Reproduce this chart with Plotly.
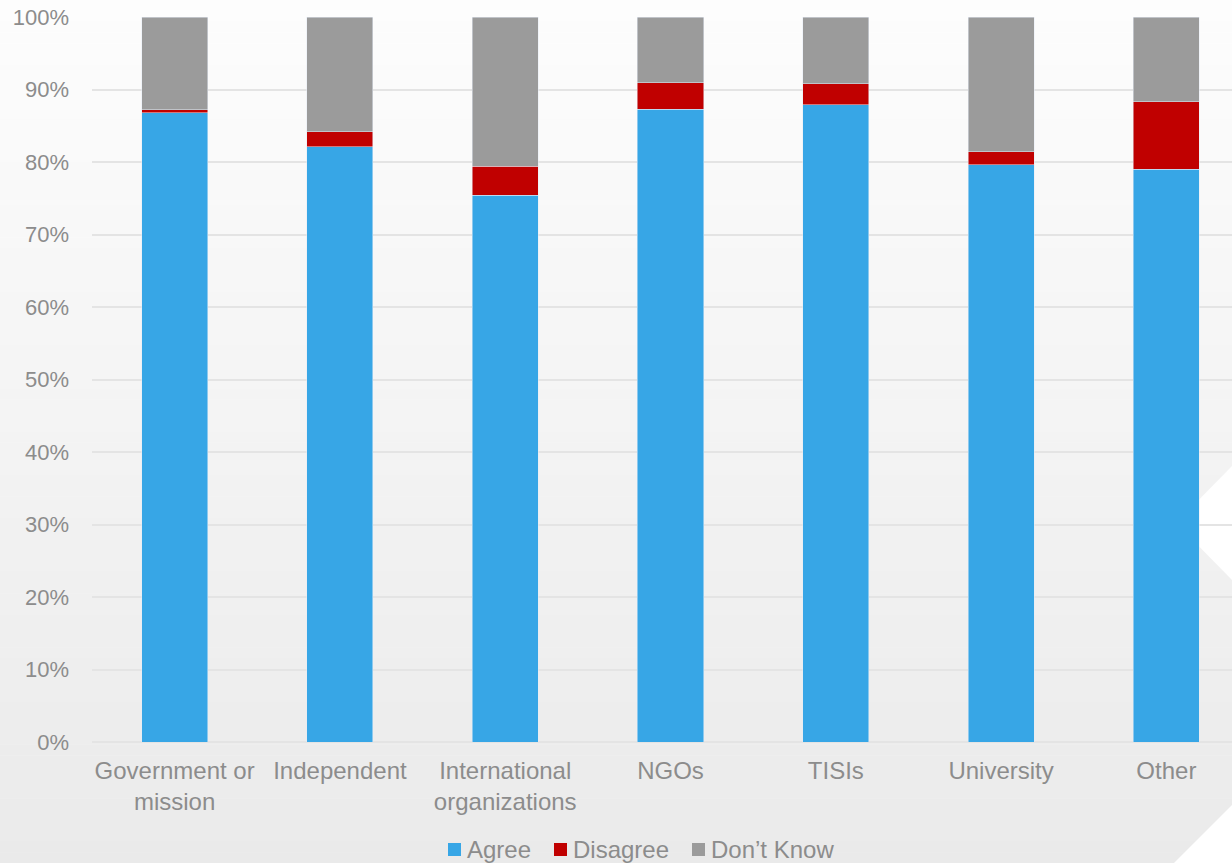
import plotly.graph_objects as go

categories = ["Government or<br>mission", "Independent", "International<br>organizations",
              "NGOs", "TISIs", "University", "Other"]
agree = [86.8, 82.1, 75.4, 87.3, 87.9, 79.6, 79.0]
disagree = [0.4, 2.1, 4.0, 3.6, 2.9, 1.8, 9.3]
dont_know = [round(100 - a - d, 1) for a, d in zip(agree, disagree)]
series_names = ["Agree", "Disagree", "Don\u2019t Know"]
series_colors = ["#37A6E6", "#C00000", "#9B9B9B"]
y_ticks = [0, 10, 20, 30, 40, 50, 60, 70, 80, 90, 100]
y_tick_labels = [f"{v}%" for v in y_ticks]

W, H = 1232, 863
ML, MR, MT, MB = 92, 0, 17, 121
PW, PH = W - ML - MR, H - MT - MB

def px2x(px):
    return (px - ML) / PW

def px2y(py):
    return (H - MB - py) / PH

font_family = "Liberation Sans, Arial, sans-serif"
tick_color = "#8c8c8c"

fig = go.Figure()
for name, vals, col in zip(series_names, [agree, disagree, dont_know], series_colors):
    fig.add_bar(name=name, x=categories, y=vals, marker_color=col, showlegend=False)

shapes = []
annotations = []
# gradient background bands
n = 80
top_c, bot_c = 253, 234
for i in range(n):
    y0 = i * H / n
    y1 = (i + 1) * H / n + 0.5
    t = (i + 0.5) / n
    c = int(round(top_c + (bot_c - top_c) * t))
    col = f"rgb({c},{c},{c})"
    shapes.append(dict(type="rect", xref="paper", yref="paper", layer="below",
                       x0=px2x(0), x1=px2x(W), y0=px2y(y1), y1=px2y(y0),
                       fillcolor=col, line=dict(width=0)))
# white chevron on the right
pts = [(1232, 466), (1176, 523), (1232, 580)]
path = "M " + " L ".join(f"{px2x(x)},{px2y(y)}" for x, y in pts) + " Z"
shapes.append(dict(type="path", xref="paper", yref="paper", layer="below", path=path,
                   fillcolor="white", line=dict(width=0)))
pts2 = [(1232, 805), (1174, 863), (1232, 863)]
path2 = "M " + " L ".join(f"{px2x(x)},{px2y(y)}" for x, y in pts2) + " Z"
shapes.append(dict(type="path", xref="paper", yref="paper", layer="below", path=path2,
                   fillcolor="white", line=dict(width=0)))

# manual legend
legend_x = [448, 554, 692]
legend_yc = 849
for name, col, lx in zip(series_names, series_colors, legend_x):
    shapes.append(dict(type="rect", xref="paper", yref="paper", layer="above",
                       x0=px2x(lx), x1=px2x(lx + 13), y0=px2y(legend_yc + 7), y1=px2y(legend_yc - 6),
                       fillcolor=col, line=dict(width=0)))
    annotations.append(dict(xref="paper", yref="paper", x=px2x(lx + 17), y=px2y(legend_yc),
                            xanchor="left", yanchor="middle", text=name, showarrow=False,
                            font=dict(size=24, color=tick_color, family=font_family)))

fig.update_layout(
    width=W, height=H,
    margin=dict(l=ML, r=MR, t=MT, b=MB, pad=0),
    barmode="stack", bargap=0.6,
    paper_bgcolor="white", plot_bgcolor="rgba(0,0,0,0)",
    font=dict(family=font_family, size=22, color=tick_color),
    shapes=shapes, annotations=annotations,
    showlegend=False,
    xaxis=dict(range=[-0.5, 6.397], showgrid=False, showline=False, ticks="",
               ticklabelstandoff=12,
               tickfont=dict(size=24, color=tick_color), fixedrange=True),
    yaxis=dict(range=[0, 100], tickvals=y_ticks, ticktext=y_tick_labels,
               showgrid=True, gridcolor="#e4e4e4", gridwidth=2, zeroline=True,
               zerolinecolor="#e4e4e4", zerolinewidth=2, showline=False, ticks="",
               ticklabelstandoff=22,
               tickfont=dict(size=22, color=tick_color)),
)

fig.write_html("out.html", config={"displayModeBar": False},
               post_script="document.body.style.margin='0';document.body.style.overflow='hidden';")
